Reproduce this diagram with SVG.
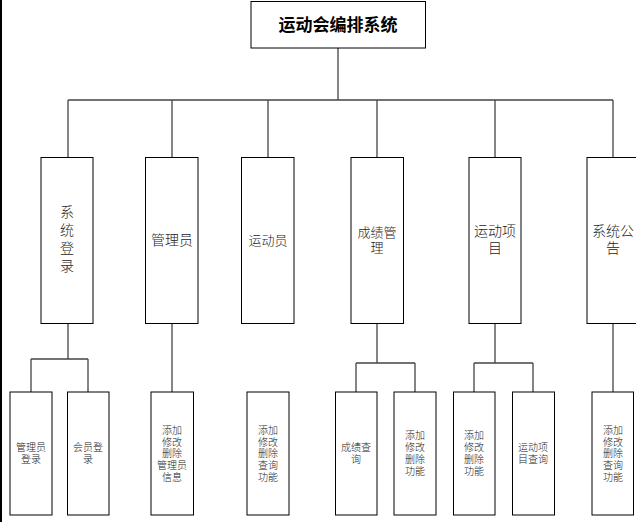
<svg xmlns="http://www.w3.org/2000/svg" width="636" height="522" viewBox="0 0 636 522">
<style>
.box{fill:#fff;stroke:#000;stroke-width:1}
.ln{fill:none;stroke:#444;stroke-width:1.3}
text{font-family:"Liberation Sans","Noto Sans CJK SC",sans-serif;fill:#222;text-anchor:middle;dominant-baseline:central}
.t{font-size:17px;font-weight:bold;fill:#000}
.m{font-size:14px;font-weight:300}
.m13{font-size:13px;font-weight:300}
.s{font-size:10px;font-weight:300}
</style>
<rect x="0" y="0" width="636" height="522" fill="#fff"/>
<rect x="0" y="0" width="2" height="522" fill="#000"/>
<g id="connectors">
<path class="ln" d="M338 48V100M68 100H613M68 100V157M172 100V157M268 100V157M377 100V157M495 100V157M613 100V157"/>
<path class="ln" d="M68 323V359M31 359H88M31 359V392M88 359V392"/>
<path class="ln" d="M172 323V392"/>
<path class="ln" d="M377 323V363M356 363H415M356 363V392M415 363V392"/>
<path class="ln" d="M495 323V363M474 363H533M474 363V392M533 363V392"/>
<path class="ln" d="M613 323V392"/>
</g>
<g id="root"><rect class="box" x="251" y="1.5" width="174.5" height="46.5"/><text class="t" x="338" y="25">运动会编排系统</text></g>
<g id="n_login"><rect class="box" x="41" y="157.5" width="52" height="166"/><text class="m" x="67" y="212"><tspan x="67" y="212">系</tspan><tspan x="67" y="230">统</tspan><tspan x="67" y="248">登</tspan><tspan x="67" y="266">录</tspan></text></g>
<g id="n_admin"><rect class="box" x="145.5" y="157.5" width="52.5" height="166"/><text class="m" x="172" y="240">管理员</text></g>
<g id="n_athlete"><rect class="box" x="241.5" y="157.5" width="52.5" height="166"/><text class="m13" x="268" y="240">运动员</text></g>
<g id="n_score"><rect class="box" x="351" y="157.5" width="52.5" height="166"/><text class="m13" x="377" y="232"><tspan x="377" y="232">成绩管</tspan><tspan x="377" y="247">理</tspan></text></g>
<g id="n_event"><rect class="box" x="469" y="157.5" width="52" height="166"/><text class="m" x="495" y="231"><tspan x="495" y="231">运动项</tspan><tspan x="495" y="248">目</tspan></text></g>
<g id="n_notice"><rect class="box" x="587" y="157.5" width="52" height="166"/><text class="m" x="613" y="231"><tspan x="613" y="231">系统公</tspan><tspan x="613" y="248">告</tspan></text></g>
<g id="c_adminlogin"><rect class="box" x="10" y="392" width="42" height="123"/><text class="s" x="31" y="447"><tspan x="31" y="447">管理员</tspan><tspan x="31" y="458.5">登录</tspan></text></g>
<g id="c_memberlogin"><rect class="box" x="67.5" y="392" width="41.5" height="123"/><text class="s" x="88" y="447"><tspan x="88" y="447">会员登</tspan><tspan x="88" y="458.5">录</tspan></text></g>
<g id="c_admininfo"><rect class="box" x="151" y="392" width="42.5" height="123"/><text class="s" x="172" y="430"><tspan x="172" y="430">添加</tspan><tspan x="172" y="441.7">修改</tspan><tspan x="172" y="453.3">删除</tspan><tspan x="172" y="465">管理员</tspan><tspan x="172" y="476.7">信息</tspan></text></g>
<g id="c_athletefn"><rect class="box" x="247" y="392" width="42" height="123"/><text class="s" x="268" y="430"><tspan x="268" y="430">添加</tspan><tspan x="268" y="441.7">修改</tspan><tspan x="268" y="453.3">删除</tspan><tspan x="268" y="465">查询</tspan><tspan x="268" y="476.7">功能</tspan></text></g>
<g id="c_scorequery"><rect class="box" x="335.5" y="392" width="41.5" height="123"/><text class="s" x="356" y="447"><tspan x="356" y="447">成绩查</tspan><tspan x="356" y="458.5">询</tspan></text></g>
<g id="c_scorefn"><rect class="box" x="394" y="392" width="42" height="123"/><text class="s" x="415" y="435"><tspan x="415" y="435">添加</tspan><tspan x="415" y="447">修改</tspan><tspan x="415" y="459">删除</tspan><tspan x="415" y="471">功能</tspan></text></g>
<g id="c_eventfn"><rect class="box" x="453.5" y="392" width="41.5" height="123"/><text class="s" x="474" y="435"><tspan x="474" y="435">添加</tspan><tspan x="474" y="447">修改</tspan><tspan x="474" y="459">删除</tspan><tspan x="474" y="471">功能</tspan></text></g>
<g id="c_eventquery"><rect class="box" x="512.5" y="392" width="42" height="123"/><text class="s" x="533" y="447"><tspan x="533" y="447">运动项</tspan><tspan x="533" y="458.5">目查询</tspan></text></g>
<g id="c_noticefn"><rect class="box" x="592" y="392" width="41.5" height="123"/><text class="s" x="613" y="430"><tspan x="613" y="430">添加</tspan><tspan x="613" y="441.7">修改</tspan><tspan x="613" y="453.3">删除</tspan><tspan x="613" y="465">查询</tspan><tspan x="613" y="476.7">功能</tspan></text></g>
</svg>
